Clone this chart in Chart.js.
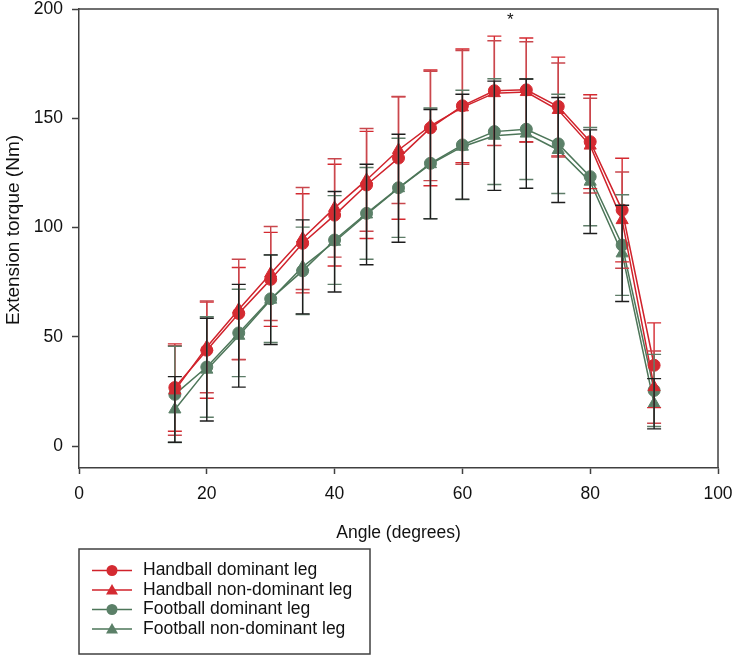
<!DOCTYPE html>
<html>
<head>
<meta charset="utf-8">
<script src="https://cdn.jsdelivr.net/npm/chart.js@4.4.1/dist/chart.umd.min.js"></script>
<style>
  body { margin: 0; background: #fff; }
</style>
</head>
<body>
<canvas id="myChart" width="734" height="657"></canvas>
<script>
// angles (degrees)
const angles = [15, 20, 25, 30, 35, 40, 45, 50, 55, 60, 65, 70, 75, 80, 85, 90];

// mean torque (Nm) and SD for each group
const hbDom   = [26.8, 43.9, 60.7, 76.3, 92.8, 105.7, 119.5, 131.8, 145.6, 155.7, 162.6, 163, 155.4, 139.3, 108, 37];
const hbDomSd = [20, 22, 21, 21.5, 22.7, 23.3, 24.5, 28, 26.5, 26, 25, 23.7, 22.6, 21.5, 23.7, 19.4];
const hbNon   = [25.5, 45.4, 62.5, 79, 95, 109, 121.8, 135.5, 146.5, 155, 161.5, 162, 153.8, 137.5, 103.4, 27];
const hbNonSd = [20.5, 21, 23, 21.5, 23.3, 22.5, 23.5, 24.5, 25, 26, 24, 23, 21.5, 21.7, 22, 16.5];
const fbDom   = [23.7, 36.2, 51.8, 67.4, 80.2, 94.3, 106.5, 118.2, 129.4, 137.8, 143.9, 145, 138.3, 123.3, 92, 25.5];
const fbDomSd = [22, 23, 20, 20, 20, 20.3, 21, 22.7, 25.3, 25, 24.2, 23, 22.7, 22.5, 23, 16.5];
const fbNon   = [16.8, 35, 50.5, 67, 82, 93.5, 106, 118, 129, 137, 142, 143, 135.5, 121, 88.2, 19.4];
const fbNonSd = [15, 23.5, 23.5, 20.5, 21.5, 23, 23, 24.7, 25, 24, 25, 25, 24, 23.7, 22, 11.5];

const labels = ["Handball dominant leg", "Handball non-dominant leg", "Football dominant leg", "Football non-dominant leg"];
const yTicks = [0, 50, 100, 150, 200];
const yTitle = 'Extension torque (Nm)';
// significance marker
const starAt = [67.5, 195];

const axisColor = '#404040';
const redLine = '#d0222b';
const greenLine = '#4d7659';
const redFill = '#d42a31';
const greenFill = '#5b8068';
const errColors = ['#d42a31', '#c9474d', '#5e7d68', '#1e1e1e'];
const sds = [hbDomSd, hbNonSd, fbDomSd, fbNonSd];
const fontFam = "'Liberation Sans', Arial, sans-serif";

Chart.defaults.font.family = fontFam;
Chart.defaults.font.size = 17.5;
Chart.defaults.color = '#111';

function pts(vals) {
  return angles.map((a, i) => ({ x: a, y: vals[i] }));
}

// error bars, frame, star, y title and boxed legend
const extras = {
  id: 'extras',
  afterDatasetsDraw(chart) {
    const ctx = chart.ctx;
    const xs = chart.scales.x, ys = chart.scales.y;
    ctx.save();
    ctx.lineWidth = 1.4;
    sds.forEach((sd, d) => {
      const data = chart.data.datasets[d].data;
      ctx.strokeStyle = errColors[d];
      data.forEach((p, i) => {
        const px = xs.getPixelForValue(p.x);
        const top = ys.getPixelForValue(p.y + sd[i]);
        const bot = ys.getPixelForValue(p.y - sd[i]);
        ctx.beginPath();
        ctx.moveTo(px, top); ctx.lineTo(px, bot);
        ctx.moveTo(px - 7, top); ctx.lineTo(px + 7, top);
        ctx.moveTo(px - 7, bot); ctx.lineTo(px + 7, bot);
        ctx.stroke();
      });
    });
    // frame top + right
    const a = chart.chartArea;
    ctx.strokeStyle = axisColor;
    ctx.lineWidth = 1.5;
    ctx.beginPath();
    ctx.moveTo(a.left, a.top); ctx.lineTo(a.right, a.top); ctx.lineTo(a.right, a.bottom);
    ctx.stroke();
    // star
    ctx.fillStyle = '#111';
    ctx.font = "17px " + fontFam;
    ctx.textAlign = 'center';
    ctx.textBaseline = 'middle';
    ctx.fillText('*', xs.getPixelForValue(starAt[0]), ys.getPixelForValue(starAt[1]));
    ctx.restore();
  },
  afterDraw(chart) {
    const ctx = chart.ctx;
    ctx.save();
    // y axis title
    ctx.fillStyle = '#111';
    ctx.font = "19px " + fontFam;
    ctx.textAlign = 'center';
    ctx.textBaseline = 'middle';
    ctx.translate(14, 230);
    ctx.rotate(-Math.PI / 2);
    ctx.fillText(yTitle, 0, 0);
    ctx.restore();

    ctx.save();
    ctx.strokeStyle = axisColor;
    ctx.lineWidth = 1.5;
    ctx.strokeRect(79, 549, 291, 105);
    ctx.font = "17.5px " + fontFam;
    ctx.textBaseline = 'middle';
    ctx.textAlign = 'left';
    chart.data.datasets.forEach((ds, i) => {
      const y = 570.5 + i * 19.5;
      ctx.strokeStyle = ds.borderColor;
      ctx.lineWidth = 1.5;
      ctx.beginPath();
      ctx.moveTo(92, y); ctx.lineTo(132, y);
      ctx.stroke();
      ctx.fillStyle = ds.pointBackgroundColor;
      ctx.beginPath();
      if (ds.pointStyle === 'triangle') {
        ctx.moveTo(112, y - 6); ctx.lineTo(118, y + 4.5); ctx.lineTo(106, y + 4.5);
        ctx.closePath();
      } else {
        ctx.arc(112, y, 5.5, 0, Math.PI * 2);
      }
      ctx.fill();
      ctx.fillStyle = '#111';
      ctx.fillText(ds.label, 143, y);
    });
    ctx.restore();
  }
};

const chart = new Chart(document.getElementById('myChart'), {
  type: 'line',
  data: {
    datasets: [
      { label: labels[0], data: pts(hbDom), borderColor: redLine, pointBackgroundColor: redFill, pointBorderColor: redFill, pointStyle: 'circle', pointRadius: 6 },
      { label: labels[1], data: pts(hbNon), borderColor: redLine, pointBackgroundColor: redFill, pointBorderColor: redFill, pointStyle: 'triangle', pointRadius: 7 },
      { label: labels[2], data: pts(fbDom), borderColor: greenLine, pointBackgroundColor: greenFill, pointBorderColor: greenFill, pointStyle: 'circle', pointRadius: 6 },
      { label: labels[3], data: pts(fbNon), borderColor: greenLine, pointBackgroundColor: greenFill, pointBorderColor: greenFill, pointStyle: 'triangle', pointRadius: 7 }
    ]
  },
  options: {
    responsive: false,
    animation: false,
    elements: { line: { borderWidth: 1.5, tension: 0 }, point: { borderWidth: 1 } },
    layout: { padding: { left: 0, top: 9, right: 16, bottom: 112 } },
    plugins: { legend: { display: false }, tooltip: { enabled: false } },
    scales: {
      x: {
        type: 'linear',
        min: 0, max: 100,
        ticks: { stepSize: 20, padding: 10, color: '#111' },
        grid: { drawOnChartArea: false, tickLength: 6, tickColor: axisColor, tickWidth: 1.5 },
        border: { color: axisColor, width: 1.5 },
        title: { display: true, text: 'Angle (degrees)', color: '#111', padding: { top: 0, bottom: 1 } },
        afterFit(s) { s.height = 77; s.paddingLeft = 0; s.paddingRight = 0; }
      },
      y: {
        min: -10, max: 200,
        afterBuildTicks(s) { s.ticks = yTicks.map(v => ({ value: v })); },
        ticks: { padding: 9, color: '#111' },
        grid: { drawOnChartArea: false, tickLength: 7, tickColor: axisColor, tickWidth: 1.5 },
        border: { color: axisColor, width: 1.5 },
        afterFit(s) { s.width = 79; s.paddingTop = 0; s.paddingBottom = 0; }
      }
    }
  },
  plugins: [extras]
});
</script>
</body>
</html>
